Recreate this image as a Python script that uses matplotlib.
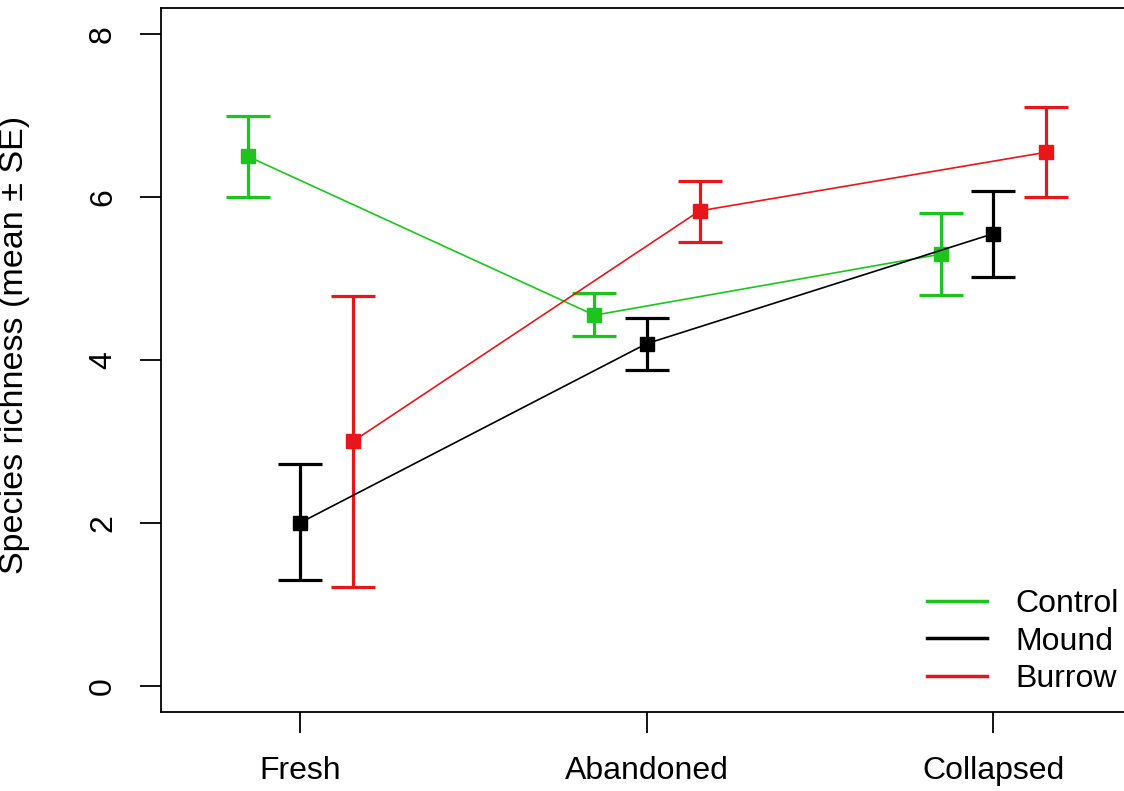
import matplotlib.pyplot as plt
from matplotlib.lines import Line2D
import numpy as np

plt.rcParams['font.family'] = ['Liberation Sans', 'DejaVu Sans']

stages = ['Fresh', 'Abandoned', 'Collapsed']

control_mean = [6.5, 4.55, 5.3]
control_lo = [6.0, 4.3, 4.8]
control_hi = [7.0, 4.82, 5.8]

mound_mean = [2.0, 4.2, 5.55]
mound_lo = [1.3, 3.88, 5.02]
mound_hi = [2.72, 4.52, 6.08]

burrow_mean = [3.0, 5.83, 6.55]
burrow_lo = [1.22, 5.45, 6.0]
burrow_hi = [4.78, 6.2, 7.1]

green = '#1ec41e'
red = '#e8161b'

fig = plt.figure(figsize=(11.24, 7.91), dpi=100)
ax = fig.add_axes([161/1124, 1 - 712/791, 971/1124, 704/791])

x = np.arange(1, 4)
series = [
    (control_mean, control_lo, control_hi, -0.15, green, 'Control'),
    (mound_mean, mound_lo, mound_hi, 0.0, 'black', 'Mound'),
    (burrow_mean, burrow_lo, burrow_hi, 0.153, red, 'Burrow'),
]
for mean, lo, hi, off, col, lab in series:
    mean = np.array(mean)
    err = [mean - np.array(lo), np.array(hi) - mean]
    ax.errorbar(x + off, mean, yerr=err, fmt='none', ecolor=col,
                elinewidth=2.3, capsize=16, capthick=2.3, zorder=2)
    ax.plot(x + off, mean, color=col, lw=1.2, marker='s', ms=9.5,
            zorder=3)

ax.set_xlim(0.6, 3.4)
ax.set_ylim(-0.32, 8.32)
ax.set_xticks(x)
ax.set_xticklabels(stages)
ax.set_yticks([0, 2, 4, 6, 8])
ax.set_yticklabels(['0', '2', '4', '6', '8'], rotation=90, va='center')
ax.tick_params(length=15, width=1.3, labelsize=23, direction='out')
ax.tick_params(axis='y', pad=16)
ax.tick_params(axis='x', pad=17)
for s in ax.spines.values():
    s.set_linewidth(1.3)

ax.set_ylabel('Species richness (mean ± SE)', fontsize=24.5)
ax.yaxis.set_label_coords(-0.135, 0.521)

handles = [Line2D([], [], color=c, lw=2.5) for c in (green, 'black', red)]
ax.legend(handles, ['Control', 'Mound', 'Burrow'], loc='lower left',
          bbox_to_anchor=(927/1124, 1 - 694/791), bbox_transform=fig.transFigure,
          frameon=False, fontsize=23, handlelength=1.88, handletextpad=0.88,
          labelspacing=0.23, borderpad=0, borderaxespad=0)

fig.savefig('out.png', dpi=100)
